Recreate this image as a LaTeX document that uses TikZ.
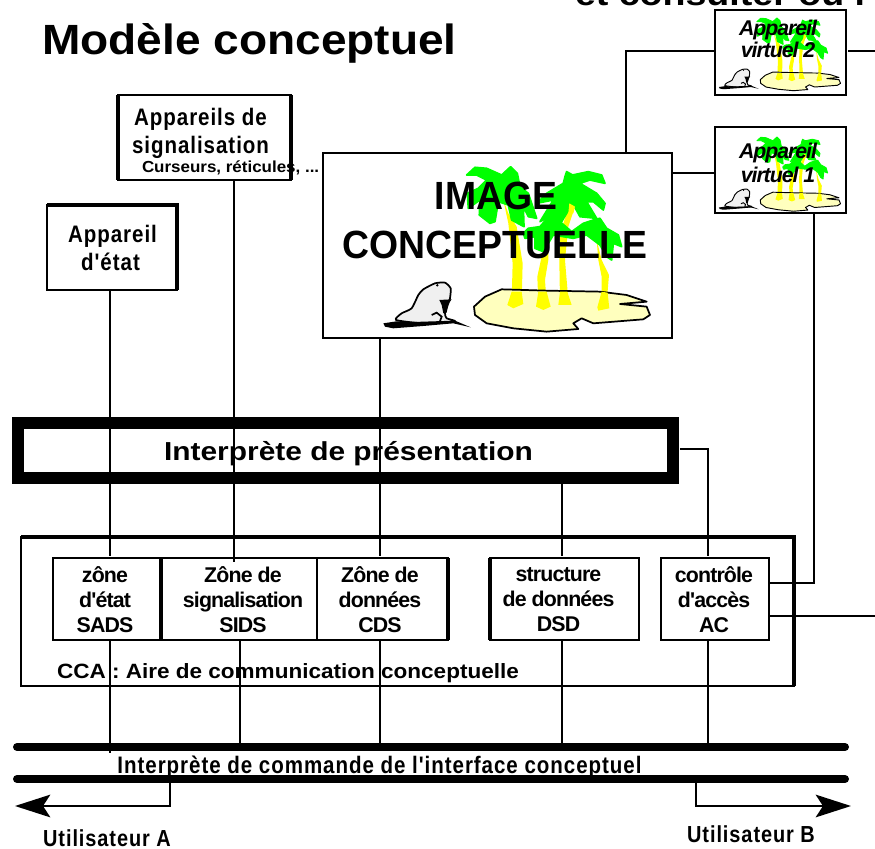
\documentclass[tikz,border=0pt]{standalone}
\usepackage{fontspec}
\newfontfamily\lsf{Liberation Sans}
\AtBeginDocument{\lsf}
\usetikzlibrary{arrows.meta}
\def\u{.75pt}
\definecolor{palmgreen}{RGB}{0,255,0}
\definecolor{palmyellow}{RGB}{255,255,0}
\definecolor{isle}{RGB}{255,255,190}
\definecolor{bea}{RGB}{240,240,240}
\tikzset{
  boxa/.style={draw,line width=1.6pt,inner sep=0pt,outer sep=0pt,anchor=north west},
  boxb/.style={draw,line width=1.1pt,inner sep=0pt,outer sep=0pt,anchor=north west},
  conn/.style={line width=1.25pt,line cap=butt},
  heavy/.style={line width=2.6pt},
  bus/.style={line width=6pt,line cap=round},
  bigarrow/.style={-{Stealth[length=26.5pt,width=17pt,inset=5.5pt]},line width=1.4pt},
  txt/.style={inner sep=0pt,outer sep=0pt,anchor=base west},
  ctxt/.style={inner sep=0pt,outer sep=0pt,anchor=base},
  narrow/.style={font=\lsf\fontsize{17.9}{20}\selectfont\bfseries\addfontfeature{FakeStretch=.86,LetterSpace=4}},
  narrowb/.style={font=\lsf\fontsize{17.4}{20}\selectfont\bfseries\addfontfeature{FakeStretch=.86,LetterSpace=4}},
  zone/.style={inner sep=0pt,outer sep=0pt,align=center,font=\lsf\fontsize{16}{18.7}\selectfont\bfseries\addfontfeature{LetterSpace=-4}},
  virt/.style={ctxt,font=\lsf\fontsize{16}{18}\selectfont\bfseries\itshape\addfontfeature{LetterSpace=-5}},
}
\newcommand{\palmart}[1]{%
  \fill[palmyellow] (370,120)--(385,160)--(410,200)--(428,310)--(425,425)--(430,432)--(400,445)--(382,435)--(395,420)--(398,310)--(385,190)--cycle;
  \fill[palmyellow] (505,240)--(505,300)--(495,360)--(500,430)--(512,440)--(490,450)--(468,440)--(475,425)--(472,350)--(485,290)--cycle;
  \fill[palmyellow] (570,130)--(585,140)--(565,200)--(555,300)--(565,420)--(575,435)--(535,435)--(540,420)--(538,300)--(540,220)--cycle;
  \fill[palmyellow] (650,240)--(665,300)--(687,345)--(680,430)--(688,445)--(655,452)--(652,442)--(665,430)--(665,350)--(655,300)--cycle;
  \filldraw[fill=palmgreen,draw=palmgreen,line width=#1,line join=round] (260,45)--(285,22)--(320,25)--(365,45)--(392,20)--(412,40)--(420,80)--(445,100)--(470,175)--(445,170)--(430,140)--(432,200)--(395,180)--(385,135)--(355,125)--(345,185)--(330,190)--(298,165)--(300,120)--(265,145)--(262,100)--(295,85)--(320,60)--(290,45)--cycle;
  \filldraw[fill=palmgreen,draw=palmgreen,line width=#1,line join=round] (430,220)--(445,205)--(480,200)--(510,165)--(540,185)--(575,215)--(610,190)--(640,180)--(660,175)--(680,205)--(715,225)--(725,260)--(700,250)--(695,300)--(680,290)--(660,255)--(620,225)--(580,235)--(520,225)--(490,275)--(465,265)--(465,230)--(435,235)--cycle;
  \filldraw[fill=palmgreen,draw=palmgreen,line width=#1,line join=round] (560,35)--(578,45)--(625,35)--(665,45)--(675,70)--(630,60)--(600,70)--(650,100)--(675,130)--(670,150)--(640,125)--(620,125)--(650,175)--(600,170)--(578,130)--(545,185)--(510,170)--(480,185)--(520,120)--(470,130)--(500,100)--(550,70)--(555,50)--cycle;
  \fill[palmyellow] (568,130)--(585,140)--(580,160)--(565,160)--cycle;
  \filldraw[fill=isle,draw=black,line width=#1,line join=round] (365,388)--(500,392)--(660,395)--(740,405)--(800,425)--(720,432)--(800,440)--(810,465)--(790,478)--(640,490)--(605,475)--(580,490)--(595,507)--(500,515)--(400,505)--(320,490)--(285,465)--(282,440)--(315,410)--cycle;
  \fill[palmyellow] (395,395)--(425,395)--(430,432)--(400,445)--(382,435)--cycle;
  \fill[palmyellow] (475,395)--(500,395)--(512,440)--(490,450)--(468,440)--cycle;
  \fill[palmyellow] (540,395)--(562,395)--(575,435)--(535,435)--cycle;
  \fill[palmyellow] (665,395)--(683,398)--(688,445)--(655,452)--(652,442)--cycle;
  \filldraw[fill=bea,draw=black,line width=#1,line join=round] plot[smooth cycle,tension=.35] coordinates {(48,480) (65,460) (95,445) (115,405) (130,388) (165,370) (195,368) (212,385) (210,415) (205,430) (195,460) (200,475) (225,484) (130,490)};
  \fill[black] (10,490)--(50,484)--(100,486)--(225,482)--(272,502)--(220,490)--(130,498)--(40,505)--(15,500)--cycle;
  \fill[black] (178,420)--(215,418)--(205,432)--(200,458)--(190,460)--(185,435)--cycle;
  \draw[line width=#1] (155,465)--(170,458)--(185,470)--(180,484);
  \fill[black] (172,376) circle[radius=4];
}
\begin{document}
\begin{tikzpicture}[x=.75pt,y=-.75pt]
\useasboundingbox (0,0) rectangle (875,849);
\clip (0,0) rectangle (875,849);
\fill[white] (0,0) rectangle (875,849);

% clip art
\begin{scope}[shift={(380,160)},xscale=.3333,yscale=.3333]\palmart{1.3pt}\end{scope}
\begin{scope}[shift={(717.4,134)},xscale=.152,yscale=.15]\palmart{.7pt}\end{scope}
\begin{scope}[shift={(717.4,15)},xscale=.152,yscale=.147]\palmart{.7pt}\end{scope}

% boxes
\node[boxa,minimum width=130*\u,minimum height=85*\u] (etat) at (47,205) {};
\node[boxa,minimum width=173*\u,minimum height=85*\u] (signal) at (118,95) {};
\node[boxa,minimum width=349*\u,minimum height=185*\u] (image) at (323,153) {};
\node[boxa,minimum width=131*\u,minimum height=85*\u] (virtB) at (715,10) {};
\node[boxa,minimum width=131*\u,minimum height=86*\u] (virtA) at (715,127) {};
\node[draw,line width=9pt,inner sep=0pt,outer sep=0pt,anchor=north west,minimum width=655*\u,minimum height=55*\u] (pres) at (18,423) {};
\node[boxb,minimum width=773*\u,minimum height=149*\u] (cca) at (21,537) {};
\node[boxb,minimum width=108*\u,minimum height=82*\u] (sads) at (53,558) {};
\node[boxb,minimum width=155*\u,minimum height=82*\u] (sids) at (162,558) {};
\node[boxb,minimum width=131*\u,minimum height=82*\u] (cds) at (317,558) {};
\node[boxb,minimum width=149*\u,minimum height=82*\u] (dsd) at (490,558) {};
\node[boxb,minimum width=108*\u,minimum height=82*\u] (ac) at (661,558) {};

% heavier edges
\draw[heavy] (etat.north west)--(etat.north east)--(etat.south east);
\draw[heavy] (signal.north east)--(signal.south east);
\draw[line width=3pt] (signal.north west)--(signal.south west);
\draw[heavy] (cca.north west)--(cca.north east)--(cca.south east);
\draw[heavy] (sads.north east)--(sads.south east);
\draw[heavy] (cds.north east)--(cds.south east);
\draw[heavy] (dsd.north west)--(dsd.south west);

% buses
\coordinate (busAw) at (17,747); \coordinate (busAe) at (845,747);
\coordinate (busBw) at (17,779); \coordinate (busBe) at (845,779);
\draw[bus] (busAw)--(busAe);
\draw[bus] (busBw)--(busBe);

% guides
\coordinate (xa) at (110,0); \coordinate (xb) at (234,0); \coordinate (xbb) at (240,0);
\coordinate (xc) at (380,0); \coordinate (xd) at (562,0); \coordinate (xe) at (708,0);
\coordinate (xf) at (814,0); \coordinate (xg) at (626,0);
\coordinate (gapy) at (0,556);
\coordinate (lowA) at (110,753);
\coordinate (acIn) at (769,583); \coordinate (acOut) at (769,616);
\coordinate (exitA) at (875,616); \coordinate (exitB) at (875,51);
\coordinate (presE) at (680,449);
\coordinate (busup) at (0,745);
\coordinate (vA) at (0,173);

% connectors
\draw[conn] (etat.south -| xa)--(xa |- gapy);
\draw[conn] (sads.south -| xa)--(lowA);
\draw[conn] (signal.south -| xb)--(sids.north -| xb)--++(0,4);
\draw[conn] (sids.south -| xbb)--(xbb |- busup);
\draw[conn] (image.south -| xc)--(xc |- gapy);
\draw[conn] (cds.south -| xc)--(xc |- busup);
\draw[conn] (pres.south -| xd)--(xd |- gapy);
\draw[conn] (dsd.south -| xd)--(xd |- busup);
\draw[conn] (presE)--(presE -| xe)--(xe |- gapy);
\draw[conn] (ac.south -| xe)--(xe |- busup);
\draw[conn] (virtA.south -| xf)--(xf |- acIn)--(acIn);
\draw[conn] (acOut)--(exitA);
\draw[conn] (virtB.west |- exitB)--(xg |- exitB)--(image.north -| xg);
\draw[conn] (image.east |- vA)--(virtA.west |- vA);
\draw[conn] ([xshift=1.5pt]virtB.east |- exitB)--(exitB);

% user arrows
\coordinate (ua1) at (170,783); \coordinate (ua2) at (170,806); \coordinate (ua3) at (15,806);
\coordinate (ub1) at (696,783); \coordinate (ub2) at (696,806); \coordinate (ub3) at (851,806);
\draw[bigarrow] (ua1)--(ua2)--(ua3);
\draw[bigarrow] (ub1)--(ub2)--(ub3);

% texts
\node[txt,font=\lsf\fontsize{24.5}{28}\selectfont\bfseries\addfontfeature{FakeStretch=1.15}] (topline) at (575,6) {et consulter ou l};
\node[txt,font=\lsf\fontsize{31.7}{36}\selectfont\bfseries\addfontfeature{FakeStretch=1.09}] (title) at (42,54.5) {Modèle conceptuel};
\node[ctxt,narrow] (t1) at (200.5,126) {Appareils de};
\node[ctxt,narrow] (t2) at (200.5,153) {signalisation};
\node[txt,font=\lsf\fontsize{12}{13}\selectfont\bfseries\addfontfeature{FakeStretch=1.06}] (t3) at (142,172) {Curseurs, réticules, ...};
\node[ctxt,narrow] (t4) at (112.5,242) {Appareil};
\node[ctxt,narrow] (t5) at (110.5,270) {d'état};
\node[ctxt,font=\lsf\fontsize{29.5}{32}\selectfont\bfseries\addfontfeature{FakeStretch=.95}] (t6) at (496,209) {IMAGE};
\node[ctxt,font=\lsf\fontsize{29.5}{32}\selectfont\bfseries\addfontfeature{FakeStretch=.95}] (t7) at (495,258) {CONCEPTUELLE};
\node[virt] (v1) at (778,36) {Appareil};
\node[virt] (v2) at (778,58) {virtuel 2};
\node[virt] (v3) at (778,158) {Appareil};
\node[virt] (v4) at (778,182) {virtuel 1};
\node[ctxt,font=\lsf\fontsize{19.5}{22}\selectfont\bfseries\addfontfeature{FakeStretch=1.15}] (t8) at (348.5,460) {Interprète de présentation};
\node[zone] (z1) at (105,600) {zône\\d'état\\SADS};
\node[zone] (z2) at (243,600) {Zône de\\signalisation\\SIDS};
\node[zone] (z3) at (380,600) {Zône de\\données\\CDS};
\node[zone] (z4) at (558.5,600) {structure\\de données\\DSD};
\node[zone] (z5) at (714,600) {contrôle\\d'accès\\AC};
\node[txt,font=\lsf\fontsize{15.5}{17}\selectfont\bfseries\addfontfeature{FakeStretch=1.09}] (t9) at (57,678) {CCA : Aire de communication conceptuelle};
\node[ctxt,narrow] (t10) at (379.5,773) {Interprète de commande de l'interface conceptuel};
\node[ctxt,narrowb] (t11) at (107,846) {Utilisateur A};
\node[ctxt,narrowb] (t12) at (751,842) {Utilisateur B};
\end{tikzpicture}
\end{document}
